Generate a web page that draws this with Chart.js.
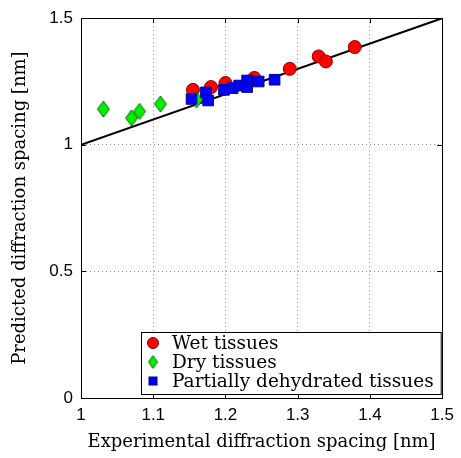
<!DOCTYPE html>
<html lang="en">
<head>
    <meta charset="UTF-8">
    <title>Diffraction spacing</title>
    <style>
        html, body { margin: 0; padding: 0; background: #fff; }
        #wrap { width: 461px; height: 458px; }
    </style>
</head>
<body>
    <div id="wrap"><canvas id="myChart"></canvas></div>
    <script src="https://cdn.jsdelivr.net/npm/chart.js"></script>
    <script>
        // experimental (x) vs predicted (y) spacing, nm
        const wetX = [1.155, 1.180, 1.200, 1.240, 1.289, 1.329, 1.339, 1.379];
        const wetY = [1.217, 1.228, 1.244, 1.264, 1.300, 1.349, 1.329, 1.386];
        const dryX = [1.031, 1.070, 1.081, 1.110, 1.160];
        const dryY = [1.141, 1.106, 1.132, 1.161, 1.178];
        const partX = [1.153, 1.173, 1.176, 1.198, 1.210, 1.219, 1.230, 1.230, 1.246, 1.268];
        const partY = [1.181, 1.207, 1.175, 1.217, 1.224, 1.234, 1.254, 1.228, 1.250, 1.257];
        const lineX = [1.0, 1.5];
        const lineY = [1.0, 1.5];
        const xTicks = [1, 1.1, 1.2, 1.3, 1.4, 1.5];
        const yTicks = [0, 0.5, 1, 1.5];
        const seriesNames = ['Wet tissues', 'Dry tissues', 'Partially dehydrated tissues'];

        function pts(xs, ys) {
            return xs.map((x, i) => ({x: x, y: ys[i]}));
        }

        const serif = '"DejaVu Serif", "Liberation Serif", serif';
        const sans = '"Liberation Sans", Arial, sans-serif';

        // tall diamond marker, like matlab's 'd'
        function diamond(w, h, fill, stroke) {
            const c = document.createElement('canvas');
            c.width = w + 2; c.height = h + 2;
            const g = c.getContext('2d');
            const cx = c.width / 2, cy = c.height / 2;
            g.beginPath();
            g.moveTo(cx, cy - h / 2); g.lineTo(cx + w / 2, cy);
            g.lineTo(cx, cy + h / 2); g.lineTo(cx - w / 2, cy);
            g.closePath();
            g.fillStyle = fill; g.fill();
            g.strokeStyle = stroke; g.lineWidth = 1; g.stroke();
            return c;
        }
        const dryMarker = diamond(12, 16, '#00ee00', '#006400');
        const legendDiamond = diamond(9, 13, '#00ee00', '#006400');

        // legend box inside the plot, bottom right, plus inward tick marks
        const boxLegend = {
            id: 'boxLegend',
            afterDatasetsDraw(chart) {
                const ctx = chart.ctx;
                const a = chart.chartArea;
                const xs = chart.scales.x, ys = chart.scales.y;
                ctx.save();
                ctx.strokeStyle = '#000';
                ctx.lineWidth = 1;
                xTicks.forEach(v => {
                    const px = Math.round(xs.getPixelForValue(v)) + 0.5;
                    ctx.beginPath();
                    ctx.moveTo(px, a.bottom); ctx.lineTo(px, a.bottom - 5);
                    ctx.moveTo(px, a.top); ctx.lineTo(px, a.top + 5);
                    ctx.stroke();
                });
                yTicks.forEach(v => {
                    const py = Math.round(ys.getPixelForValue(v)) + 0.5;
                    ctx.beginPath();
                    ctx.moveTo(a.left, py); ctx.lineTo(a.left + 5, py);
                    ctx.moveTo(a.right, py); ctx.lineTo(a.right - 5, py);
                    ctx.stroke();
                });
                const bx = 141.5, by = 332.5, bw = a.right - 141.5 - 1, bh = 62;
                ctx.fillStyle = '#fff';
                ctx.fillRect(bx, by, bw, bh);
                ctx.strokeStyle = '#000';
                ctx.strokeRect(bx, by, bw, bh);
                ctx.font = '18.5px ' + serif;
                ctx.textBaseline = 'middle';
                const rows = [343, 362, 381];
                const mx = 153;
                ctx.beginPath();
                ctx.arc(mx, rows[0], 5.5, 0, Math.PI * 2);
                ctx.fillStyle = '#ff0000'; ctx.fill();
                ctx.strokeStyle = '#8b0000'; ctx.stroke();
                ctx.drawImage(legendDiamond, mx - legendDiamond.width / 2, rows[1] - legendDiamond.height / 2);
                ctx.fillStyle = '#0000ff';
                ctx.fillRect(mx - 4, rows[2] - 4, 8, 8);
                ctx.strokeStyle = '#00008b';
                ctx.strokeRect(mx - 4, rows[2] - 4, 8, 8);
                ctx.fillStyle = '#000';
                seriesNames.forEach((t, i) => ctx.fillText(t, 172, rows[i] + 1));
                ctx.restore();
            }
        };

        const canvas = document.getElementById('myChart');
        new Chart(canvas, {
            type: 'scatter',
            data: {
                datasets: [{
                    label: seriesNames[0],
                    data: pts(wetX, wetY),
                    backgroundColor: '#ff0000',
                    borderColor: '#8b0000',
                    borderWidth: 1,
                    pointStyle: 'circle',
                    pointRadius: 6.5,
                    order: 3
                }, {
                    label: seriesNames[1],
                    data: pts(dryX, dryY),
                    pointStyle: dryMarker,
                    order: 2
                }, {
                    label: seriesNames[2],
                    data: pts(partX, partY),
                    backgroundColor: '#0000ff',
                    borderColor: '#00008b',
                    borderWidth: 1,
                    pointStyle: 'rect',
                    pointRadius: 7.5,
                    order: 1
                }, {
                    label: 'y = x',
                    type: 'line',
                    data: pts(lineX, lineY),
                    borderColor: '#000',
                    borderWidth: 2,
                    pointRadius: 0,
                    fill: false,
                    order: 4
                }]
            },
            options: {
                responsive: true,
                maintainAspectRatio: false,
                animation: false,
                layout: { padding: { top: 18, right: 18, left: 10, bottom: 5 } },
                plugins: {
                    legend: { display: false },
                    tooltip: { enabled: false }
                },
                scales: {
                    x: {
                        type: 'linear',
                        min: 1, max: 1.5,
                        afterBuildTicks: s => { s.ticks = xTicks.map(v => ({value: v})); },
                        afterFit: s => { s.height = 55; },
                        border: { color: '#000', width: 1, dash: [1, 3] },
                        grid: {
                            color: '#888',
                            lineWidth: 1,
                            drawTicks: false
                        },
                        ticks: {
                            color: '#000',
                            padding: 7,
                            font: { family: sans, size: 17 },
                            callback: v => String(v)
                        },
                        title: {
                            display: true,
                            text: 'Experimental diffraction spacing [nm]',
                            color: '#000',
                            font: { family: serif, size: 18 },
                            padding: { top: 0, bottom: 0 }
                        }
                    },
                    y: {
                        type: 'linear',
                        min: 0, max: 1.5,
                        afterBuildTicks: s => { s.ticks = yTicks.map(v => ({value: v})); },
                        afterFit: s => { s.width = 71; },
                        border: { color: '#000', width: 1, dash: [1, 3] },
                        grid: {
                            color: '#888',
                            lineWidth: 1,
                            drawTicks: false
                        },
                        ticks: {
                            color: '#000',
                            padding: 8,
                            font: { family: sans, size: 17 },
                            callback: v => String(v)
                        },
                        title: {
                            display: true,
                            text: 'Predicted diffraction spacing [nm]',
                            color: '#000',
                            font: { family: serif, size: 18 },
                            padding: { top: 0, bottom: 0 }
                        }
                    }
                }
            },
            plugins: [boxLegend, {
                id: 'frame',
                afterDatasetsDraw(chart) {
                    // solid box round the plot
                    const a = chart.chartArea, ctx = chart.ctx;
                    ctx.save();
                    ctx.strokeStyle = '#000';
                    ctx.lineWidth = 1;
                    ctx.strokeRect(Math.round(a.left) + 0.5, Math.round(a.top) + 0.5,
                        Math.round(a.right - a.left), Math.round(a.bottom - a.top));
                    ctx.restore();
                }
            }]
        });
    </script>
</body>
</html>
